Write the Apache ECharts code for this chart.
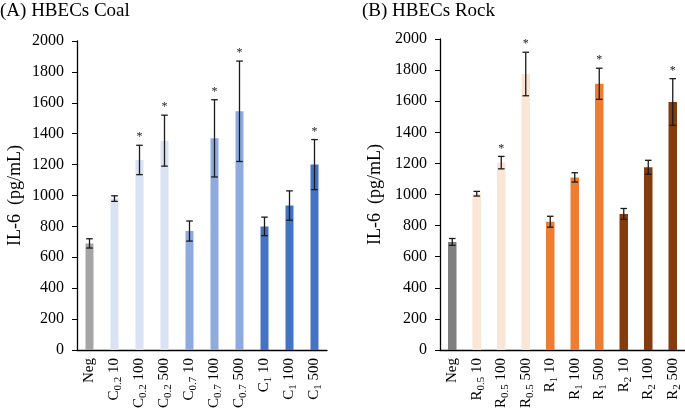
<!DOCTYPE html>
<html><head><meta charset="utf-8">
<script src="https://cdn.jsdelivr.net/npm/echarts@6/dist/echarts.min.js"></script>
<style>html,body{margin:0;padding:0;background:#fff}#c{width:685px;height:411px}</style>
</head><body><div id="c"></div>
<script>
// ---- data ----
const catsA = ['Neg','C_0.2 10','C_0.2 100','C_0.2 500','C_0.7 10','C_0.7 100','C_0.7 500','C_1 10','C_1 100','C_1 500'];
const valsA = [690, 980, 1230, 1355, 770, 1370, 1545, 800, 935, 1200];
const errA  = [30, 18, 95, 165, 65, 250, 325, 60, 95, 162];
const sigA  = [0,0,1,1,0,1,1,0,0,1];

const catsB = ['Neg','R_0.5 10','R_0.5 100','R_0.5 500','R_1 10','R_1 100','R_1 500','R_2 10','R_2 100','R_2 500'];
const valsB = [695, 1005, 1205, 1775, 825, 1110, 1712, 875, 1175, 1595];
const errB  = [22, 15, 40, 140, 35, 30, 100, 35, 45, 150];
const sigB  = [0,0,1,1,0,0,1,0,0,1];

const yTicks = [0,200,400,600,800,1000,1200,1400,1600,1800,2000];

// ---- style ----
const colorsA = ['#a5a5a5','#dae3f3','#dae3f3','#dae3f3','#8faadc','#8faadc','#8faadc','#4472c4','#4472c4','#4472c4'];
const colorsB = ['#7f7f7f','#fbe5d6','#fbe5d6','#fbe5d6','#ed7d31','#ed7d31','#ed7d31','#843c0c','#843c0c','#843c0c'];
const FONT = '"Liberation Serif","Times New Roman",serif';

function fmtCat(s){
  const m = s.match(/^([A-Za-z]+)_([0-9.]+)(.*)$/);
  if(!m) return '{m|' + s + '}';
  return '{m|' + m[1] + '}{s|' + m[2] + '}{m|' + m[3] + '}';
}

function xAxis(idx, cats){
  return {
    type:'category', gridIndex:idx, data:cats,
    axisLine:{lineStyle:{color:'#000', width:1.3}},
    axisTick:{show:false},
    axisLabel:{
      interval:0, rotate:90, margin:8, color:'#000',
      fontFamily:FONT, fontSize:15,
      formatter: fmtCat,
      rich:{
        m:{fontFamily:FONT, fontSize:15, color:'#000'},
        s:{fontFamily:FONT, fontSize:11, color:'#000', verticalAlign:'bottom', padding:[8,0,0,0]}
      }
    }
  };
}
function yAxis(idx, gap){
  return {
    type:'value', gridIndex:idx, min:0, max:2000, interval:200,
    name:'IL-6  (pg/mL)', nameLocation:'middle', nameGap:gap,
    nameTextStyle:{fontFamily:FONT, fontSize:18, color:'#000'},
    axisLine:{show:true, lineStyle:{color:'#000', width:1.3}},
    axisTick:{show:true, length:5, lineStyle:{color:'#000'}},
    splitLine:{show:false},
    axisLabel:{color:'#000', fontFamily:FONT, fontSize:16, margin:13,
      formatter: v => yTicks.indexOf(v) >= 0 ? String(v) : ''}
  };
}
function bars(idx, vals, colors, bw){
  return {
    type:'bar', xAxisIndex:idx, yAxisIndex:idx, barWidth:bw,
    data: vals.map((v,i)=>({value:v, itemStyle:{color:colors[i]}})),
    silent:true
  };
}
function errs(idx, vals, err, sig){
  return {
    type:'custom', xAxisIndex:idx, yAxisIndex:idx, silent:true, z:10,
    data: vals.map((v,i)=>[i, v, err[i], sig[i]]),
    renderItem:function(params, api){
      const i = api.value(0), v = api.value(1), e = api.value(2), s = api.value(3);
      const top = api.coord([i, v+e]), bot = api.coord([i, v-e]);
      const x = top[0], cw = 3.3;
      const st = {stroke:'#1a1a1a', lineWidth:1.3};
      const children = [
        {type:'line', shape:{x1:x,y1:top[1],x2:x,y2:bot[1]}, style:st},
        {type:'line', shape:{x1:x-cw,y1:top[1],x2:x+cw,y2:top[1]}, style:st},
        {type:'line', shape:{x1:x-cw,y1:bot[1],x2:x+cw,y2:bot[1]}, style:st}
      ];
      if(s){
        children.push({type:'text', style:{text:'*', x:x, y:top[1]-2, align:'center', verticalAlign:'bottom',
          font:'12px ' + FONT, fill:'#1a1a1a'}});
      }
      return {type:'group', children:children};
    }
  };
}

const chart = echarts.init(document.getElementById('c'), null, {renderer:'canvas'});
chart.setOption({
  animation:false,
  backgroundColor:'#fff',
  title:[
    {text:'(A) HBECs Coal', left:0, top:2, padding:0, textStyle:{fontFamily:FONT, fontSize:19, fontWeight:'normal', color:'#000'}},
    {text:'(B) HBECs Rock', left:362, top:2, padding:0, textStyle:{fontFamily:FONT, fontSize:19, fontWeight:'normal', color:'#000'}}
  ],
  grid:[
    {left:77, top:41, width:250, height:311.5},
    {left:440, top:39, width:246, height:312.7}
  ],
  xAxis:[xAxis(0, catsA), xAxis(1, catsB)],
  yAxis:[yAxis(0, 53), yAxis(1, 56)],
  series:[
    bars(0, valsA, colorsA, 8),
    bars(1, valsB, colorsB, 8.5),
    errs(0, valsA, errA, sigA),
    errs(1, valsB, errB, sigB)
  ]
});
</script></body></html>
